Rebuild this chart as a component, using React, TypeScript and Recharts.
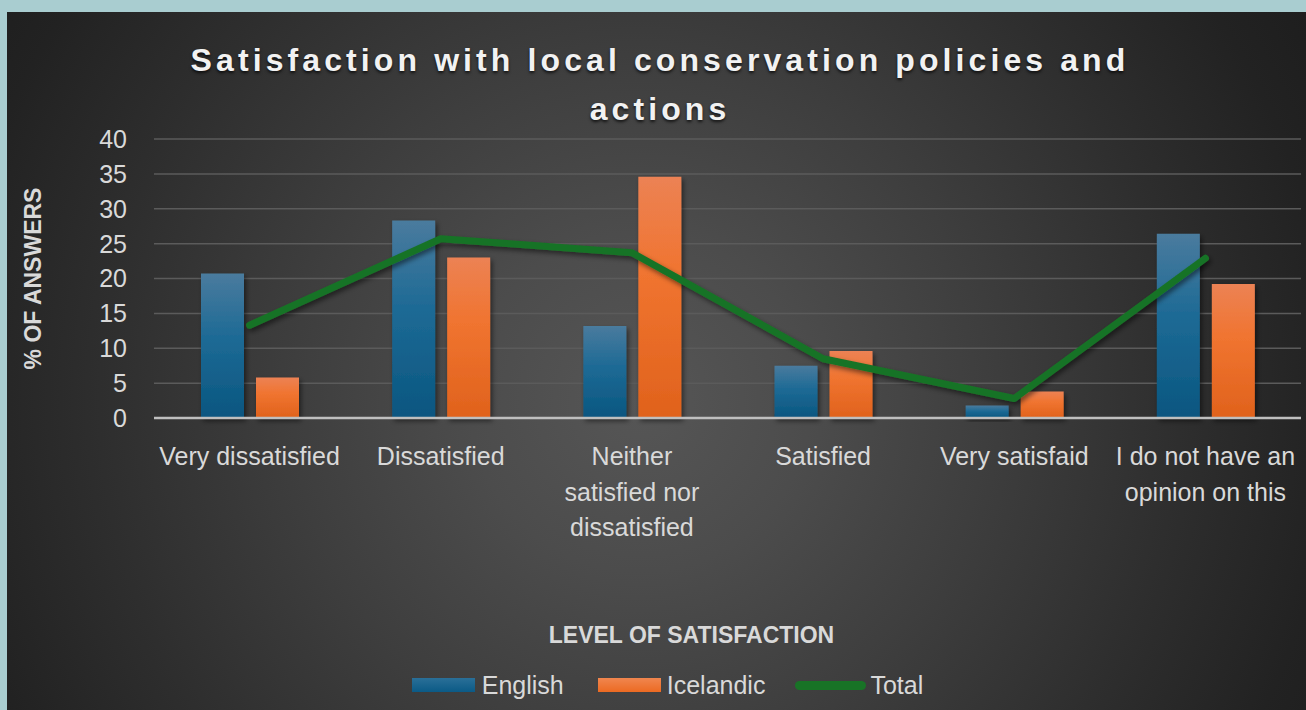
import React from 'react';
import {
    ComposedChart,
    Bar,
    Line,
    XAxis,
    YAxis,
    CartesianGrid,
    Legend,
    Label,
} from 'recharts';

const categories = [
    'Very dissatisfied',
    'Dissatisfied',
    'Neither satisfied nor dissatisfied',
    'Satisfied',
    'Very satisfaid',
    'I do not have an opinion on this',
];
// how each category label breaks over lines under the axis
const categoryLines = [
    ['Very dissatisfied'],
    ['Dissatisfied'],
    ['Neither', 'satisfied nor', 'dissatisfied'],
    ['Satisfied'],
    ['Very satisfaid'],
    ['I do not have an', 'opinion on this'],
];
const englishValues = [20.7, 28.3, 13.2, 7.5, 1.8, 26.4];
const icelandicValues = [5.8, 23.0, 34.6, 9.6, 3.8, 19.2];
const totalValues = [13.3, 25.7, 23.7, 8.5, 2.8, 22.9];
const yTicks = [0, 5, 10, 15, 20, 25, 30, 35, 40];
const seriesNames = ['English', 'Icelandic', 'Total'];
const titleLines = ['Satisfaction with local conservation policies and', 'actions'];
const yAxisTitle = '% OF ANSWERS';
const xAxisTitle = 'LEVEL OF SATISFACTION';

const data = categories.map((name, i) => ({
    name,
    english: englishValues[i],
    icelandic: icelandicValues[i],
    total: totalValues[i],
}));

const FONT = "'Liberation Sans', Arial, sans-serif";
const TEXT = '#d9d9d9';
const GREEN = '#187326';

const CategoryTick = (props: any) => {
    const { x, y, payload } = props;
    const idx = categories.indexOf(payload.value);
    const lines = categoryLines[idx] || [payload.value];
    return (
        <text
            x={x}
            y={y + 47}
            textAnchor="middle"
            fill={TEXT}
            fontSize={25}
            fontFamily={FONT}
        >
            {lines.map((l, i) => (
                <tspan key={i} x={x} dy={i === 0 ? 0 : 35.5}>
                    {l}
                </tspan>
            ))}
        </text>
    );
};

const renderLegend = () => (
    <div
        style={{
            height: 30,
            display: 'flex',
            justifyContent: 'center',
            alignItems: 'center',
            paddingLeft: 34,
            fontFamily: FONT,
            fontSize: 25,
            color: TEXT,
        }}
    >
        <span style={{ width: 63, height: 14, background: 'linear-gradient(#2a6f98, #0b5a86)' }} />
        <span style={{ marginLeft: 7, marginRight: 34 }}>{seriesNames[0]}</span>
        <span style={{ width: 63, height: 14, background: 'linear-gradient(#f0864f, #ec6a22)' }} />
        <span style={{ marginLeft: 6, marginRight: 30 }}>{seriesNames[1]}</span>
        <span style={{ width: 71, height: 9, borderRadius: 5, background: GREEN }} />
        <span style={{ marginLeft: 4 }}>{seriesNames[2]}</span>
    </div>
);

export default function App() {
    return (
        <div
            style={{
                position: 'absolute',
                left: 0,
                top: 0,
                width: 1306,
                height: 710,
                background: '#a9cdd0',
                overflow: 'hidden',
            }}
        >
            <div
                style={{
                    position: 'absolute',
                    left: 7,
                    top: 12,
                    width: 1299,
                    height: 698,
                    background:
                        'radial-gradient(circle at 633px 390px, #565656 0%, #4c4c4c 22%, #3e3e3e 45%, #2e2e2e 70%, #222222 90%, #1e1e1e 100%)',
                }}
            />
            <div
                style={{
                    position: 'absolute',
                    left: 7,
                    top: 36,
                    width: 1306,
                    textAlign: 'center',
                    fontFamily: FONT,
                    fontWeight: 'bold',
                    fontSize: 32,
                    letterSpacing: 4.1,
                    lineHeight: '49px',
                    color: '#f2f2f2',
                    textShadow: '0 2px 3px rgba(0,0,0,0.7)',
                }}
            >
                {titleLines.map((t, i) => (
                    <div key={i}>{t}</div>
                ))}
            </div>
            <div style={{ position: 'absolute', left: 0, top: 0 }}>
                <ComposedChart
                    width={1306}
                    height={710}
                    data={data}
                    margin={{ top: 139, right: 5, left: 0, bottom: 10 }}
                    barGap={12}
                >
                    <defs>
                        <linearGradient id="gradEnglish" x1="0" y1="0" x2="0" y2="1">
                            <stop offset="0%" stopColor="#4a7b9e" />
                            <stop offset="45%" stopColor="#1d6a95" />
                            <stop offset="100%" stopColor="#0a5680" />
                        </linearGradient>
                        <linearGradient id="gradIcelandic" x1="0" y1="0" x2="0" y2="1">
                            <stop offset="0%" stopColor="#ec8254" />
                            <stop offset="40%" stopColor="#f07430" />
                            <stop offset="100%" stopColor="#e0621c" />
                        </linearGradient>
                        <filter id="shadow" x="-20%" y="-20%" width="150%" height="150%">
                            <feDropShadow dx="2" dy="3" stdDeviation="2.5" floodColor="#000" floodOpacity="0.5" />
                        </filter>
                    </defs>
                    <CartesianGrid vertical={false} stroke="#5b5b5b" strokeWidth={1.5} />
                    <XAxis
                        dataKey="name"
                        height={252}
                        tickLine={false}
                        tickSize={0}
                        tickMargin={0}
                        axisLine={{ stroke: '#bfbfbf', strokeWidth: 2.5 }}
                        tick={<CategoryTick />}
                        interval={0}
                    >
                        <Label
                            content={(p: any) => {
                                const vb = p.viewBox;
                                return (
                                    <text
                                        x={vb.x + vb.width / 2 - 36}
                                        y={vb.y + 225}
                                        textAnchor="middle"
                                        fill={TEXT}
                                        fontSize={23}
                                        fontWeight="bold"
                                        fontFamily={FONT}
                                    >
                                        {xAxisTitle}
                                    </text>
                                );
                            }}
                        />
                    </XAxis>
                    <YAxis
                        width={154}
                        domain={[0, 40]}
                        ticks={yTicks}
                        axisLine={false}
                        tickLine={false}
                        tickSize={0}
                        tickMargin={27}
                        tick={{ fill: TEXT, fontSize: 25, fontFamily: FONT }}
                    >
                        <Label
                            content={(p: any) => {
                                const vb = p.viewBox;
                                const cx = vb.x + 41;
                                const cy = vb.y + vb.height / 2;
                                return (
                                    <text
                                        x={cx}
                                        y={cy}
                                        transform={`rotate(-90 ${cx} ${cy})`}
                                        textAnchor="middle"
                                        fill={TEXT}
                                        fontSize={23}
                                        fontWeight="bold"
                                        fontFamily={FONT}
                                    >
                                        {yAxisTitle}
                                    </text>
                                );
                            }}
                        />
                    </YAxis>
                    <Legend verticalAlign="bottom" content={renderLegend} />
                    <Bar
                        dataKey="english"
                        name={seriesNames[0]}
                        fill="url(#gradEnglish)"
                        barSize={43}
                        filter="url(#shadow)"
                        isAnimationActive={false}
                    />
                    <Bar
                        dataKey="icelandic"
                        name={seriesNames[1]}
                        fill="url(#gradIcelandic)"
                        barSize={43}
                        filter="url(#shadow)"
                        isAnimationActive={false}
                    />
                    <Line
                        type="linear"
                        dataKey="total"
                        name={seriesNames[2]}
                        stroke={GREEN}
                        strokeWidth={7}
                        strokeLinecap="round"
                        strokeLinejoin="round"
                        dot={false}
                        activeDot={false}
                        filter="url(#shadow)"
                        isAnimationActive={false}
                    />
                </ComposedChart>
            </div>
        </div>
    );
}
